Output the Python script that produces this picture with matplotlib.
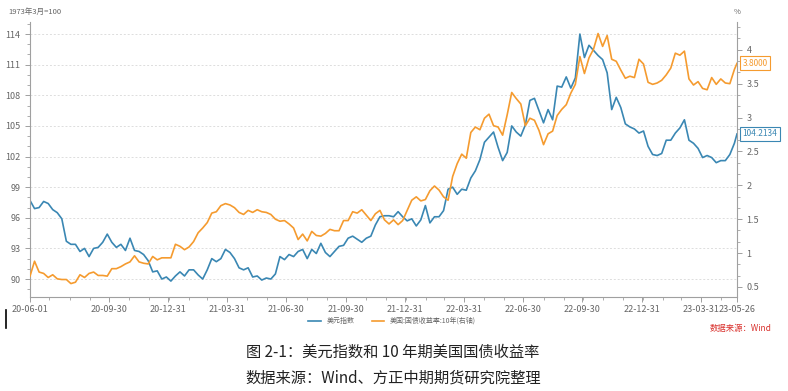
import numpy as np
import pandas as pd
import matplotlib
matplotlib.use('Agg')
import matplotlib.pyplot as plt
import matplotlib.dates as mdates
from matplotlib.ticker import MultipleLocator, FixedLocator

plt.rcParams['font.family'] = ['Noto Sans CJK SC', 'DejaVu Sans']

# 周度数据（每周一），最后一个点为 2023-05-26
start = '2020-06-01'
end = '2023-05-26'

dxy = [
    97.7, 96.9, 97.0, 97.6, 97.4, 96.8, 96.5, 95.9, 93.7, 93.4,
    93.4, 92.7, 93.0, 92.2, 93.0, 93.1, 93.6, 94.4, 93.6, 93.1,
    93.4, 92.8, 94.0, 92.8, 92.7, 92.4, 91.8, 90.7, 90.8, 90.0,
    90.2, 89.8, 90.3, 90.7, 90.3, 90.9, 90.9, 90.4, 90.0, 90.9,
    92.0, 91.7, 92.0, 92.9, 92.6, 92.0, 91.1, 90.9, 91.1, 90.2,
    90.3, 89.9, 90.1, 90.0, 90.5, 92.2, 91.9, 92.4, 92.2, 92.7,
    92.9, 92.0, 92.9, 92.5, 93.5, 92.6, 92.2, 92.7, 93.2, 93.3,
    94.0, 94.2, 93.9, 93.6, 94.0, 94.2, 95.3, 96.1, 96.2, 96.2,
    96.1, 96.6, 96.1, 95.7, 95.9, 95.2, 95.8, 97.2, 95.5, 96.1,
    96.1, 96.7, 98.8, 99.0, 98.3, 98.8, 98.7, 99.9, 100.6, 101.7,
    103.4, 103.9, 104.4, 102.9, 101.6, 102.4, 105.0, 104.4, 104.0, 105.1,
    107.5, 107.7, 106.5, 105.3, 106.6, 105.6, 108.9, 108.8, 109.8, 108.7,
    109.7, 114.0, 111.7, 112.9, 112.4, 111.9, 111.5, 110.2, 106.6, 107.8,
    106.8, 105.2, 104.9, 104.7, 104.3, 104.5, 103.0, 102.2, 102.1, 102.3,
    103.6, 103.6, 104.3, 104.8, 105.6, 103.6, 103.3, 102.8, 101.9, 102.1,
    101.9, 101.4, 101.6, 101.6, 102.2, 103.3, 104.2134,
]

us10y = [
    0.66, 0.88, 0.72, 0.70, 0.64, 0.68, 0.62, 0.61, 0.61, 0.55,
    0.57, 0.68, 0.64, 0.70, 0.72, 0.67, 0.67, 0.66, 0.77, 0.77,
    0.80, 0.84, 0.87, 0.96, 0.87, 0.85, 0.84, 0.95, 0.90, 0.93,
    0.93, 0.93, 1.13, 1.10, 1.05, 1.09, 1.17, 1.30, 1.37, 1.45,
    1.59, 1.61, 1.70, 1.73, 1.71, 1.67, 1.60, 1.57, 1.63, 1.60,
    1.64, 1.61, 1.60, 1.57, 1.50, 1.47, 1.48, 1.43, 1.37, 1.20,
    1.28, 1.18, 1.32, 1.26, 1.25, 1.29, 1.35, 1.33, 1.33, 1.48,
    1.48, 1.61, 1.59, 1.64, 1.56, 1.48, 1.58, 1.63, 1.49, 1.43,
    1.49, 1.42, 1.48, 1.63, 1.78, 1.83, 1.77, 1.79, 1.92, 1.99,
    1.93, 1.83, 1.78, 2.13, 2.32, 2.46, 2.40, 2.78, 2.86, 2.82,
    2.99, 3.05, 2.88, 2.86, 2.74, 3.04, 3.37, 3.28, 3.20, 2.88,
    2.99, 2.96, 2.81, 2.60, 2.76, 2.80, 3.03, 3.12, 3.19, 3.36,
    3.49, 3.90, 3.65, 3.88, 4.01, 4.24, 4.05, 4.21, 3.86, 3.83,
    3.70, 3.58, 3.61, 3.59, 3.86, 3.79, 3.52, 3.49, 3.51, 3.55,
    3.63, 3.73, 3.95, 3.92, 3.98, 3.57, 3.48, 3.53, 3.43, 3.41,
    3.59, 3.49, 3.57, 3.51, 3.50, 3.71, 3.80,
]

dates = list(pd.date_range(start, periods=len(dxy) - 1, freq='7D')) + [pd.Timestamp(end)]

tick_dates = ['2020-06-01', '2020-09-30', '2020-12-31', '2021-03-31', '2021-06-30',
              '2021-09-30', '2021-12-31', '2022-03-31', '2022-06-30', '2022-09-30',
              '2022-12-31', '2023-03-31', '2023-05-26']

BLUE = '#3a87b3'
ORANGE = '#f59b2f'
GRAY = '#8c8c8c'
TXT = '#666666'

fig = plt.figure(figsize=(7.88, 3.91), dpi=100)
ax = fig.add_axes([30 / 788, 1 - 297 / 391, 707 / 788, 275 / 391])
ax2 = ax.twinx()

ax.plot(dates, dxy, color=BLUE, lw=1.2, label='美元指数')
ax2.plot(dates, us10y, color=ORANGE, lw=1.2, label='美国:国债收益率:10年(右轴)')

ax.set_xlim(pd.Timestamp(start), pd.Timestamp(end))
ax.set_ylim(88.24, 115.18)
ax2.set_ylim(0.352, 4.41)

ax.yaxis.set_major_locator(MultipleLocator(3))
ax.yaxis.set_minor_locator(MultipleLocator(1))
ax2.yaxis.set_major_locator(MultipleLocator(0.5))
ax2.yaxis.set_minor_locator(MultipleLocator(0.5 / 3))
ax2.set_yticks([0.5, 1, 1.5, 2, 2.5, 3, 3.5, 4])
ax2.set_yticklabels(['0.5', '1', '1.5', '2', '2.5', '3', '3.5', '4'])

ticks = [mdates.date2num(pd.Timestamp(d)) for d in tick_dates]
ax.xaxis.set_major_locator(FixedLocator(ticks))
ax.set_xticklabels([pd.Timestamp(d).strftime('%y-%m-%d') for d in tick_dates])
ax.xaxis.set_minor_locator(mdates.MonthLocator(bymonthday=1))

ax.grid(axis='y', which='major', color='#dddddd', ls=(0, (2, 2)), lw=0.7)
ax.set_axisbelow(True)

for a in (ax, ax2):
    a.spines['top'].set_visible(False)
    for s in ('left', 'right', 'bottom'):
        a.spines[s].set_color('#a0a0a0')
        a.spines[s].set_linewidth(0.8)
    a.tick_params(which='major', length=3.5, width=0.7, color='#a0a0a0',
                  labelsize=6.5, labelcolor=TXT)
    a.tick_params(which='minor', length=2, width=0.6, color='#a0a0a0')
ax.spines['right'].set_visible(False)
ax2.spines['left'].set_visible(False)
ax2.spines['bottom'].set_visible(False)
ax.tick_params(axis='x', pad=2)

# 顶部单位
fig.text(8 / 788, 1 - 12 / 391, '1973年3月=100', fontsize=5.5, color=TXT, va='center')
fig.text(737 / 788, 1 - 12 / 391, '%', fontsize=5.5, color=TXT, va='center', ha='center')

# 末值标签
ax2.text(1.008, us10y[-1], '3.8000', transform=ax2.get_yaxis_transform(),
         fontsize=6, color=ORANGE, va='center', ha='left',
         bbox=dict(boxstyle='square,pad=0.3', fc='white', ec=ORANGE, lw=0.8))
ax.text(1.008, dxy[-1], '104.2134', transform=ax.get_yaxis_transform(),
        fontsize=6, color=BLUE, va='center', ha='left',
        bbox=dict(boxstyle='square,pad=0.3', fc='white', ec=BLUE, lw=0.8))

# 图例
h1, l1 = ax.get_legend_handles_labels()
h2, l2 = ax2.get_legend_handles_labels()
fig.legend(h1 + h2, l1 + l2, loc='center', bbox_to_anchor=(392 / 788, 1 - 321 / 391),
           ncol=2, frameon=False, fontsize=5, handlelength=1.8, columnspacing=2.5,
           labelcolor=TXT)

fig.text(772 / 788, 1 - 328 / 391, '数据来源：Wind', fontsize=6, color='#d9302c',
         ha='right', va='center')

# 光标竖线
fig.add_artist(plt.Line2D([6 / 788, 6 / 788], [1 - 328 / 391, 1 - 310 / 391],
                          color='black', lw=1.2, transform=fig.transFigure))

fig.text(393 / 788, 1 - 352 / 391, '图 2-1：美元指数和 10 年期美国国债收益率',
         fontsize=11, color='#222222', ha='center', va='center')
fig.text(393 / 788, 1 - 378 / 391, '数据来源：Wind、方正中期期货研究院整理',
         fontsize=11, color='#222222', ha='center', va='center')

fig.savefig('out.png', dpi=100, facecolor='white')
